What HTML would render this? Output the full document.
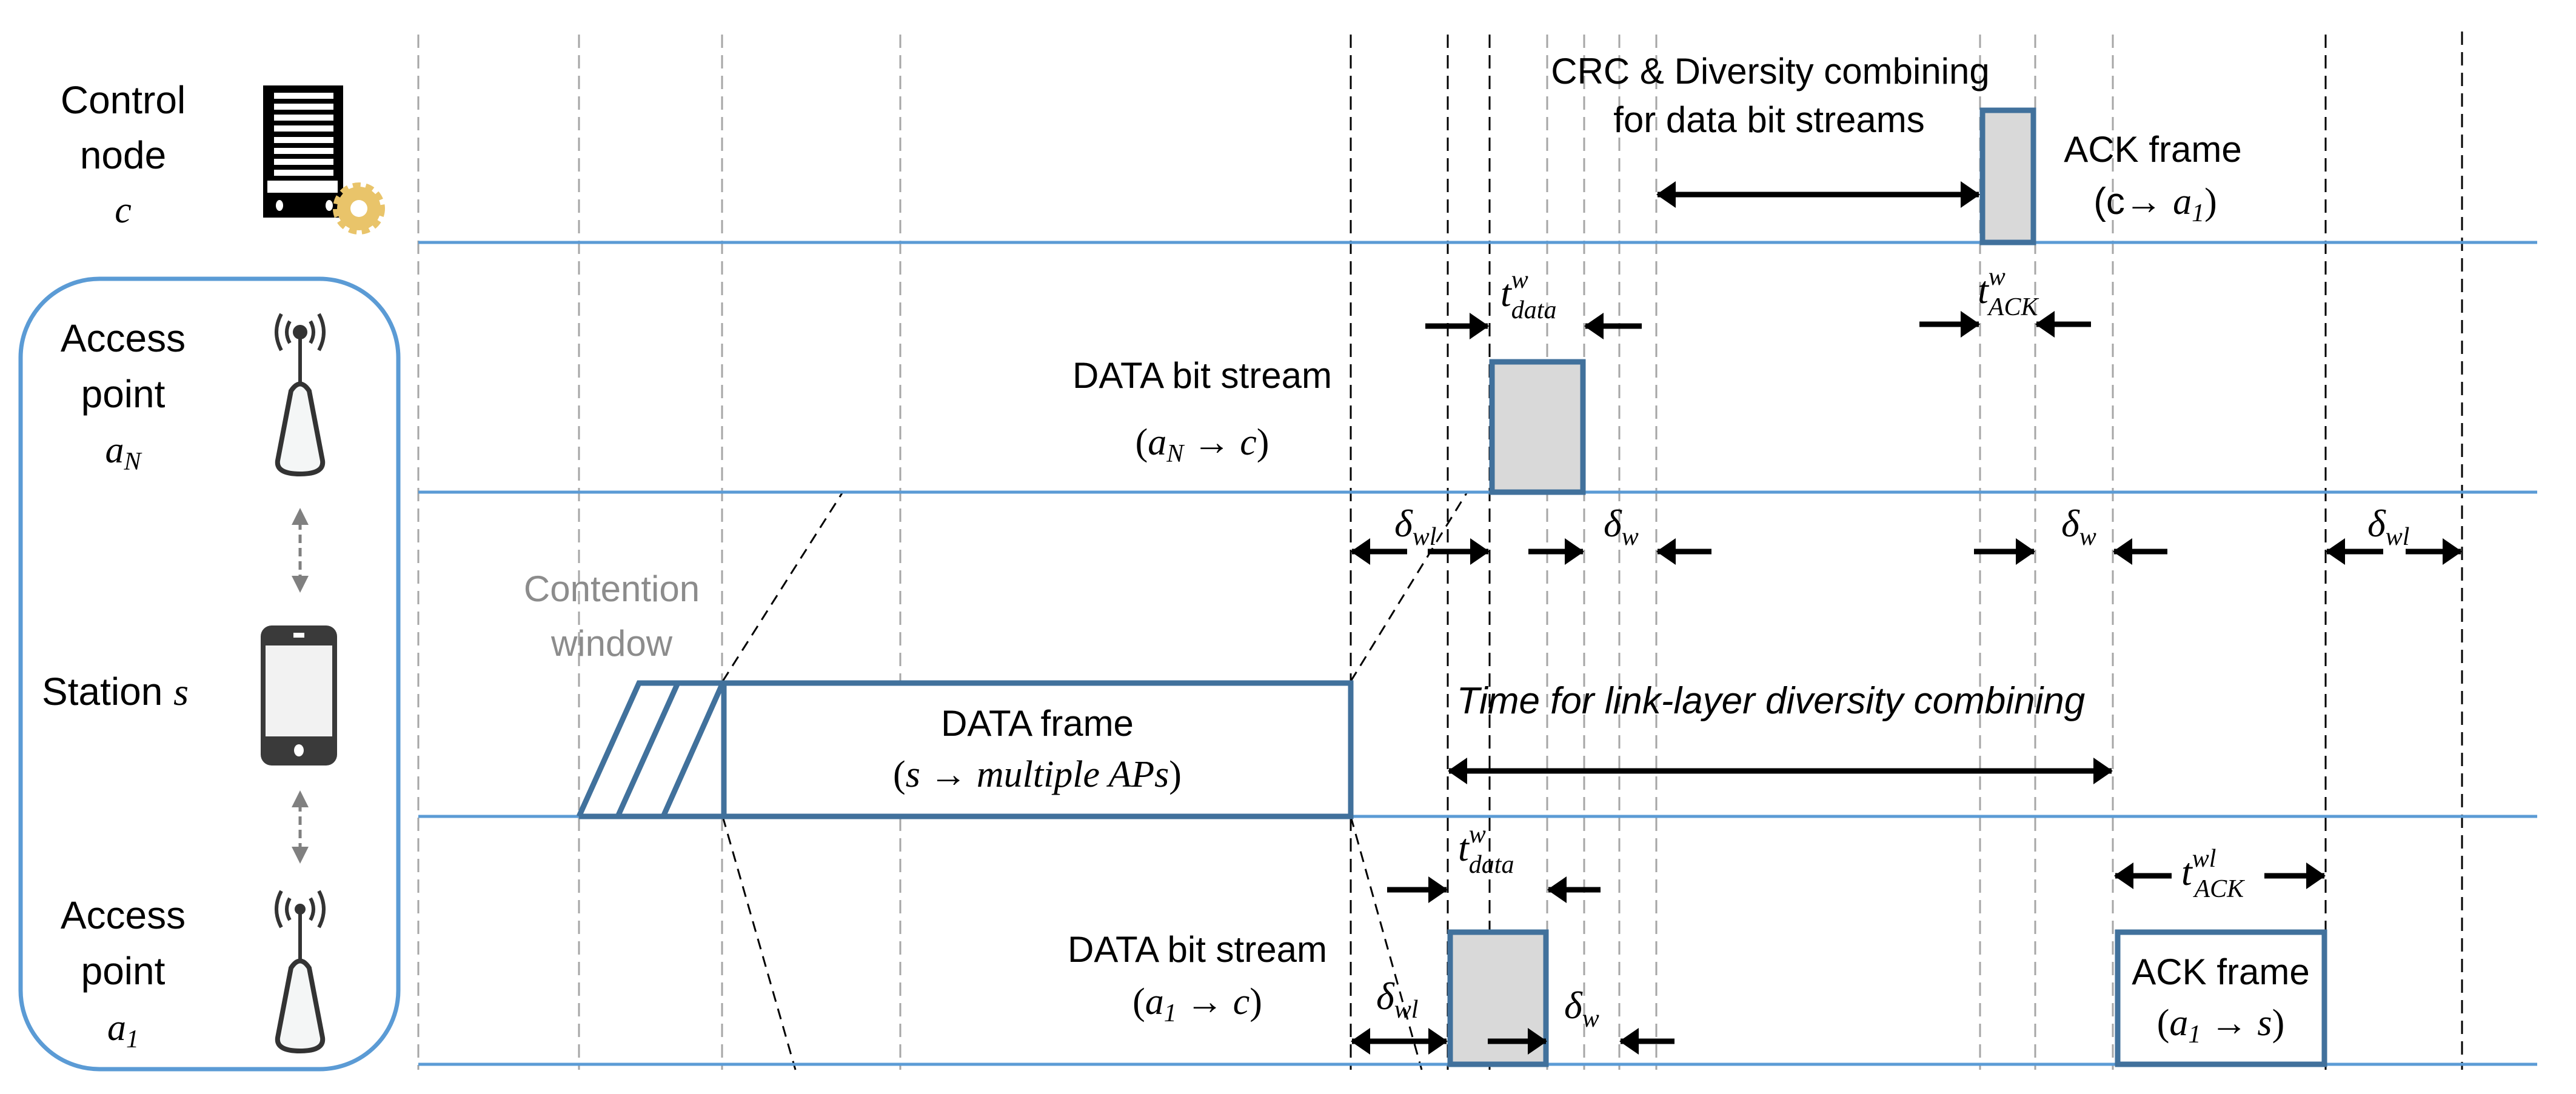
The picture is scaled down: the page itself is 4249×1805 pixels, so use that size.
<!DOCTYPE html>
<html><head><meta charset="utf-8"><style>
html,body{margin:0;padding:0;background:#fff}
svg{display:block}
.t{font-family:"Liberation Sans",sans-serif;fill:#000}
.m{font-family:"Liberation Serif",serif;font-style:italic;fill:#000}
</style></head><body>
<svg width="4249" height="1805" viewBox="0 0 4249 1805" xmlns="http://www.w3.org/2000/svg">
<defs>
<marker id="ah" viewBox="0 0 32 44" refX="30" refY="22" markerWidth="32" markerHeight="44" markerUnits="userSpaceOnUse" orient="auto-start-reverse">
<path d="M0,0 L32,22 L0,44 z" fill="#000"/></marker>
</defs>
<!-- gray dashed verticals -->
<g stroke="#a6a6a6" stroke-width="3" stroke-dasharray="22,12">
<line x1="690" y1="57" x2="690" y2="1765"/><line x1="955" y1="57" x2="955" y2="1765"/>
<line x1="1191" y1="57" x2="1191" y2="1765"/><line x1="1485" y1="57" x2="1485" y2="1765"/>
<line x1="2552" y1="57" x2="2552" y2="1765"/><line x1="2613" y1="57" x2="2613" y2="1765"/>
<line x1="2671" y1="57" x2="2671" y2="1765"/><line x1="2732" y1="57" x2="2732" y2="1765"/>
<line x1="3266" y1="57" x2="3266" y2="1765"/><line x1="3357" y1="57" x2="3357" y2="1765"/>
<line x1="3485" y1="57" x2="3485" y2="1765"/>
</g>
<g stroke="#000" stroke-width="3" stroke-dasharray="22,12">
<line x1="2228" y1="57" x2="2228" y2="1765"/><line x1="2388" y1="57" x2="2388" y2="1765"/>
<line x1="2457" y1="57" x2="2457" y2="1765"/><line x1="3836" y1="57" x2="3836" y2="1765"/>
<line x1="4061" y1="52" x2="4061" y2="1765"/>
</g>
<!-- slanted dashed -->
<g stroke="#000" stroke-width="3" stroke-dasharray="18,12" fill="none">
<line x1="1192" y1="1124" x2="1390" y2="812"/><line x1="2228" y1="1124" x2="2420" y2="812"/>
<line x1="1192" y1="1347" x2="1312" y2="1765"/><line x1="2228" y1="1347" x2="2345" y2="1765"/>
</g>
<!-- horizontal blue lines -->
<g stroke="#5b9bd5" stroke-width="5">
<line x1="690" y1="400" x2="4185" y2="400"/><line x1="690" y1="812" x2="4185" y2="812"/>
<line x1="690" y1="1347" x2="4185" y2="1347"/><line x1="690" y1="1756" x2="4185" y2="1756"/>
</g>
<!-- boxes -->
<g stroke="#41719c" stroke-width="9">
<rect x="3270" y="182" width="84" height="218" fill="#d9d9d9"/>
<rect x="2461" y="597" width="150" height="215" fill="#d9d9d9"/>
<rect x="2392" y="1538" width="158" height="218" fill="#d9d9d9"/>
<rect x="3493" y="1538" width="341" height="218" fill="#fff"/>
<rect x="1194" y="1127" width="1034" height="220" fill="#fff"/>
<path d="M955,1347 L1054,1127 L1192,1127 M1019,1347 L1118,1127 M1094,1347 L1192,1127 M955,1347 L1192,1347" fill="none"/>
</g>
<!-- arrows -->
<g stroke="#000" stroke-width="9" fill="none">
<line x1="2734" y1="321" x2="3264" y2="321" marker-start="url(#ah)" marker-end="url(#ah)"/>
<line x1="2351" y1="538" x2="2454" y2="538" marker-end="url(#ah)"/>
<line x1="2708" y1="538" x2="2615" y2="538" marker-end="url(#ah)"/>
<line x1="3166" y1="535" x2="3264" y2="535" marker-end="url(#ah)"/>
<line x1="3449" y1="535" x2="3359" y2="535" marker-end="url(#ah)"/>
<line x1="2321" y1="910" x2="2230" y2="910" marker-end="url(#ah)"/>
<line x1="2355" y1="910" x2="2455" y2="910" marker-end="url(#ah)"/>
<line x1="2521" y1="910" x2="2611" y2="910" marker-end="url(#ah)"/>
<line x1="2823" y1="910" x2="2734" y2="910" marker-end="url(#ah)"/>
<line x1="3256" y1="910" x2="3355" y2="910" marker-end="url(#ah)"/>
<line x1="3575" y1="910" x2="3487" y2="910" marker-end="url(#ah)"/>
<line x1="3931" y1="910" x2="3838" y2="910" marker-end="url(#ah)"/>
<line x1="3968" y1="910" x2="4059" y2="910" marker-end="url(#ah)"/>
<line x1="2390" y1="1272" x2="3483" y2="1272" marker-start="url(#ah)" marker-end="url(#ah)"/>
<line x1="2288" y1="1468" x2="2386" y2="1468" marker-end="url(#ah)"/>
<line x1="2640" y1="1468" x2="2554" y2="1468" marker-end="url(#ah)"/>
<line x1="2230" y1="1718" x2="2386" y2="1718" marker-start="url(#ah)" marker-end="url(#ah)"/>
<line x1="2454" y1="1718" x2="2550" y2="1718" marker-end="url(#ah)"/>
<line x1="2762" y1="1718" x2="2673" y2="1718" marker-end="url(#ah)"/>
<line x1="3582" y1="1445" x2="3489" y2="1445" marker-end="url(#ah)"/>
<line x1="3735" y1="1445" x2="3834" y2="1445" marker-end="url(#ah)"/>
</g>
<!-- texts -->
<g class="t" font-size="60" text-anchor="middle">
<text x="2920" y="138">CRC &amp; Diversity combining</text>
<text x="2918" y="218">for data bit streams</text>
<text x="3551" y="267">ACK frame</text>
<text x="1983" y="640">DATA bit stream</text>
<text x="1711" y="1214">DATA frame</text>
<text x="1975" y="1587">DATA bit stream</text>
<text x="3663" y="1624">ACK frame</text>
<text x="1009" y="992" fill="#8c8c8c" style="fill:#8c8c8c">Contention</text>
<text x="1009" y="1082" style="fill:#8c8c8c">window</text>
<text x="203" y="187" font-size="64">Control</text>
<text x="203" y="278" font-size="64">node</text>
<text x="203" y="580" font-size="64">Access</text>
<text x="203" y="672" font-size="64">point</text>
<text x="203" y="1532" font-size="64">Access</text>
<text x="203" y="1624" font-size="64">point</text>
<text x="190" y="1163" font-size="64">Station <tspan class="m" style="font-family:'Liberation Serif',serif;font-style:italic">s</tspan></text>
</g>
<g class="m" font-size="62" text-anchor="middle">
<text x="203" y="367">c</text>
<text x="203" y="763">a<tspan font-size="42" dy="12">N</tspan></text>
<text x="203" y="1716">a<tspan font-size="42" dy="12">1</tspan></text>
<text x="3555" y="353"><tspan style="font-style:normal;font-family:'Liberation Sans',sans-serif">(c→ </tspan>a<tspan font-size="42" dy="12">1</tspan><tspan dy="-12" style="font-style:normal">)</tspan></text>
<text x="1983" y="750"><tspan style="font-style:normal">(</tspan>a<tspan font-size="42" dy="12">N</tspan><tspan dy="-12" style="font-style:normal"> → </tspan>c<tspan style="font-style:normal">)</tspan></text>
<text x="1975" y="1673"><tspan style="font-style:normal">(</tspan>a<tspan font-size="42" dy="12">1</tspan><tspan dy="-12" style="font-style:normal"> → </tspan>c<tspan style="font-style:normal">)</tspan></text>
<text x="3663" y="1708"><tspan style="font-style:normal">(</tspan>a<tspan font-size="42" dy="12">1</tspan><tspan dy="-12" style="font-style:normal"> → </tspan>s<tspan style="font-style:normal">)</tspan></text>
<text x="1711" y="1298"><tspan style="font-style:normal">(</tspan>s <tspan style="font-style:normal">→</tspan> multiple APs<tspan style="font-style:normal">)</tspan></text>
<text x="2921" y="1177" font-family="Liberation Sans, sans-serif" style="font-family:'Liberation Sans',sans-serif">Time for link-layer diversity combining</text>
</g>
<g class="m" font-size="64">
<text x="2475" y="505">t<tspan font-size="42" dy="-30">w</tspan><tspan font-size="42" dx="-28" dy="50">data</tspan></text>
<text x="3262" y="500">t<tspan font-size="42" dy="-30">w</tspan><tspan font-size="42" dx="-28" dy="50">ACK</tspan></text>
<text x="2405" y="1420">t<tspan font-size="42" dy="-30">w</tspan><tspan font-size="42" dx="-28" dy="50">data</tspan></text>
<text x="3598" y="1460">t<tspan font-size="42" dy="-30">wl</tspan><tspan font-size="42" dx="-36" dy="50">ACK</tspan></text>
<text x="2300" y="885">δ<tspan font-size="42" dy="14">wl</tspan></text>
<text x="2645" y="885">δ<tspan font-size="42" dy="14">w</tspan></text>
<text x="3400" y="885">δ<tspan font-size="42" dy="14">w</tspan></text>
<text x="3905" y="885">δ<tspan font-size="42" dy="14">wl</tspan></text>
<text x="2270" y="1665">δ<tspan font-size="42" dy="14">wl</tspan></text>
<text x="2580" y="1680">δ<tspan font-size="42" dy="14">w</tspan></text>
</g>
<!-- left rounded box -->
<rect x="34" y="460" width="623" height="1304" rx="130" ry="130" fill="none" stroke="#5b9bd5" stroke-width="7"/>
<!-- server icon -->
<rect x="434" y="141" width="132" height="218" fill="#000"/>
<g fill="#fff">
<rect x="452" y="153" width="98" height="10"/><rect x="452" y="171" width="98" height="10"/>
<rect x="452" y="189" width="98" height="10"/><rect x="452" y="207" width="98" height="10"/>
<rect x="452" y="226" width="98" height="10"/><rect x="452" y="244" width="98" height="10"/>
<rect x="452" y="262" width="98" height="10"/><rect x="452" y="280" width="98" height="10"/>
<rect x="441" y="298" width="116" height="20"/>
<ellipse cx="461" cy="339" rx="6" ry="9"/><ellipse cx="543" cy="339" rx="6" ry="9"/>
</g>
<circle cx="592" cy="344" r="36" fill="#e9c46a" stroke="#e9c46a" stroke-width="14" stroke-dasharray="12,8"/>
<circle cx="592" cy="344" r="14" fill="#fff"/>
<!-- AP icons -->
<g id="ap" fill="none" stroke="#333" stroke-width="6">
<line x1="495" y1="548" x2="495" y2="635"/>
<circle cx="495" cy="548" r="9" fill="#333"/>
<path d="M478,530 Q468,548 478,566 M512,530 Q522,548 512,566 M464,518 Q448,548 464,578 M526,518 Q542,548 526,578"/>
<path d="M480,645 L458,760 Q455,782 495,782 Q535,782 532,760 L510,645 Q495,622 480,645 z" fill="#f4f6f6" stroke-width="8"/>
</g>
<g transform="translate(0,952)">
<line x1="495" y1="548" x2="495" y2="635" stroke="#333" stroke-width="6"/>
<circle cx="495" cy="548" r="9" fill="#333"/>
<path d="M478,530 Q468,548 478,566 M512,530 Q522,548 512,566 M464,518 Q448,548 464,578 M526,518 Q542,548 526,578" fill="none" stroke="#333" stroke-width="6"/>
<path d="M480,645 L458,760 Q455,782 495,782 Q535,782 532,760 L510,645 Q495,622 480,645 z" fill="#f4f6f6" stroke="#333" stroke-width="8"/>
</g>
<!-- phone -->
<rect x="430" y="1032" width="126" height="231" rx="18" fill="#3a3a3a"/>
<rect x="438" y="1065" width="110" height="150" fill="#f2f2f2"/>
<rect x="484" y="1044" width="18" height="8" fill="#fff"/>
<ellipse cx="493" cy="1238" rx="8" ry="10" fill="#fff"/>
<!-- gray arrows -->
<g stroke="#808080" stroke-width="5" stroke-dasharray="14,8">
<line x1="495" y1="860" x2="495" y2="955"/><line x1="495" y1="1325" x2="495" y2="1405"/>
</g>
<g fill="#808080">
<path d="M495,838 L481,866 L509,866 z"/><path d="M495,978 L481,950 L509,950 z"/>
<path d="M495,1304 L481,1332 L509,1332 z"/><path d="M495,1425 L481,1397 L509,1397 z"/>
</g>
</svg>
</body></html>
